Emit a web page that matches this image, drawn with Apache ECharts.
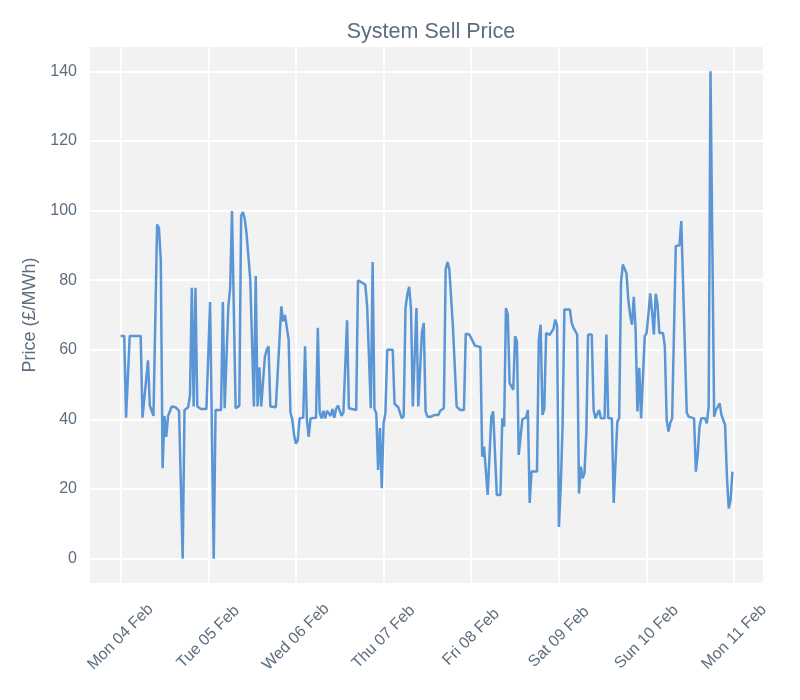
<!DOCTYPE html>
<html>
<head>
<meta charset="utf-8">
<title>System Sell Price</title>
<script src="https://cdn.jsdelivr.net/npm/echarts@6/dist/echarts.min.js"></script>
<style>
  html, body { margin: 0; padding: 0; background: #ffffff; }
  #chart { width: 800px; height: 700px; }
</style>
</head>
<body>
<div id="chart"></div>
<script>
// ── Data ──────────────────────────────────────────
// x = half-hour slot counted from Mon 04 Feb 00:00, y = price in £/MWh
const slotIndex = [
  0, 1, 2, 3, 4, 5, 11, 12, 13, 15, 16, 17, 18, 19, 20, 21, 22, 23, 24, 25, 26,
  27, 28, 30, 31, 32, 33, 34, 35, 37, 38, 39, 40, 41, 42, 44, 45, 47, 48, 49, 51,
  52, 55, 56, 57, 58, 59, 60, 61, 63, 65, 66, 67, 68, 69, 70, 71, 72, 73, 74, 75,
  76, 77, 78, 79, 80, 81, 82, 85, 86, 88, 89, 90, 91, 92, 93, 94, 95, 96, 97, 98,
  100, 101, 102, 103, 104, 107, 108, 109, 110, 111, 112, 113, 114, 115, 116, 117, 118, 119, 120, 121,
  122, 124, 125, 129, 130, 131, 134, 135, 136, 137, 138, 139, 140, 141, 142, 143, 144, 145, 146, 149,
  150, 152, 153, 154, 155, 156, 157, 158, 159, 160, 161, 162, 163, 164, 165, 166, 167, 168, 170, 172,
  174, 175, 177, 178, 179, 180, 181, 182, 183, 184, 186, 188, 189, 191, 192, 194, 195, 197, 198, 199,
  200, 201, 202, 203, 204, 205, 206, 208, 209, 210, 211, 212, 213, 214, 215, 216, 217, 218, 219, 220,
  221, 222, 223, 224, 225, 228, 229, 230, 231, 232, 233, 234, 235, 236, 237, 238, 239, 240, 241, 242,
  243, 246, 247, 248, 249, 250, 251, 252, 253, 254, 255, 256, 258, 259, 260, 261, 262, 263, 265, 266,
  267, 269, 270, 271, 272, 273, 274, 275, 276, 277, 278, 279, 280, 281, 282, 283, 284, 285, 286, 287,
  288, 289, 290, 291, 292, 293, 294, 295, 297, 298, 299, 300, 301, 302, 303, 304, 306, 307, 308, 310,
  311, 314, 315, 316, 317, 318, 320, 321, 322, 323, 324, 325, 326, 328, 329, 330, 331, 332, 333, 334,
  335
];
const sellPrice = [
  64, 64, 64, 40.5, 40.5, 64, 64, 40.5, 40.5, 57, 44, 43.5, 41, 41, 96, 95, 86, 26, 41, 35, 41,
  41.5, 43.7, 43.5, 43, 42.5, 42, 0, 42.7, 43.5, 47, 77.8, 43.7, 77.8, 43.7, 43, 42.7, 43, 43, 73.7, 0,
  42.7, 42.7, 73.7, 43.2, 43, 72.5, 77.8, 99.9, 43.2, 43.9, 98.5, 99.6, 97.5, 93.2, 92.7, 80.2, 79.7, 43.7, 81.2, 43.7,
  55, 43.7, 44, 58, 60, 61, 43.7, 43.5, 43, 72.5, 68.2, 70, 70, 63, 42, 40, 35.5, 33, 34, 40.3,
  40.5, 61, 40, 35, 40.3, 40.5, 66.3, 42, 40.3, 42.5, 40.3, 42.5, 42.5, 41, 43, 40.5, 43, 44, 43.5, 41,
  42, 68.5, 43.2, 42.7, 80, 79.7, 78.7, 72.5, 72, 43.2, 85.2, 43, 41.8, 25.5, 37.5, 20.2, 38.9, 41.8, 60, 60,
  44.5, 43.5, 43, 40.3, 41, 72, 75.9, 78.1, 72, 43.7, 43.2, 72, 43.7, 43.7, 65, 67.7, 42.3, 40.8, 40.8, 41.3,
  41.3, 42.5, 43.2, 83.1, 85.2, 83.3, 83.1, 66.3, 66, 43.7, 42.7, 42.7, 64.6, 64.4, 64.1, 61.2, 61, 60.8, 29.3, 32.2,
  32, 18.3, 18.3, 40.8, 42.3, 42, 18.3, 18.3, 40.3, 37.9, 72, 70.1, 50.4, 49.5, 48.5, 63.9, 62.4, 29.8, 29.8, 40.1,
  40.3, 40.5, 42.7, 16, 25, 25, 62.9, 67.2, 41.3, 43, 64.8, 64.6, 64.3, 64, 66, 68.7, 67, 9.1, 20.7, 37.9,
  71.6, 71.6, 67.7, 66.3, 65.8, 64.4, 18.7, 26.4, 23.1, 24.5, 36, 64.4, 64.4, 42.7, 40.3, 40.3, 42.7, 40.3, 40.3, 64.4,
  40.3, 40.3, 16, 16, 39.4, 40.3, 79.3, 84.5, 84.3, 82, 74.4, 70, 67.2, 75.2, 65.8, 42.3, 54.8, 40.3, 40.3, 63.9,
  64.8, 70.1, 76.2, 71, 64.4, 76.1, 73, 64.8, 64.8, 61, 39.9, 36.5, 39, 40.3, 40.8, 89.8, 90, 97, 97, 42,
  40.8, 40.3, 25, 30, 38, 40.3, 40.3, 38.9, 43.7, 140, 140, 40.8, 42.7, 44.6, 41.3, 41.3, 38.4, 23.5, 14.4, 16.8,
  25
];
const dayLabels = ['Mon 04 Feb', 'Tue 05 Feb', 'Wed 06 Feb', 'Thu 07 Feb',
                   'Fri 08 Feb', 'Sat 09 Feb', 'Sun 10 Feb', 'Mon 11 Feb'];
const dayTicks   = [0, 48, 96, 144, 192, 240, 288, 336];
const priceTicks = [0, 20, 40, 60, 80, 100, 120, 140];

// ── Chart ─────────────────────────────────────────
const TEXT = '#5d6d7e';
const FONT = '"Liberation Sans", Arial, sans-serif';

const chart = echarts.init(document.getElementById('chart'), null, { renderer: 'canvas' });

chart.setOption({
  animation: false,
  backgroundColor: '#ffffff',
  textStyle: { fontFamily: FONT, color: TEXT },
  title: {
    text: 'System Sell Price',
    left: 426,
    top: 16,
    textAlign: 'center',
    textStyle: { fontFamily: FONT, color: TEXT, fontSize: 21.5, fontWeight: 'normal' }
  },
  grid: {
    left: 90, right: 37, top: 47, bottom: 117,
    show: true,
    backgroundColor: '#f2f2f2',
    borderWidth: 0,
    containLabel: false,
    outerBoundsMode: 'none'
  },
  xAxis: {
    type: 'value',
    min: -16.75,
    max: 351.75,
    axisLine: { show: false },
    axisTick: { show: false, customValues: dayTicks },
    splitLine: { show: true, lineStyle: { color: '#ffffff', width: 1.8 } },
    axisLabel: {
      customValues: dayTicks,
      rotate: 45,
      align: 'center',
      verticalAlign: 'middle',
      margin: 54,
      fontSize: 16,
      fontFamily: FONT,
      color: TEXT,
      formatter: function (v) { return dayLabels[Math.round(v / 48)]; }
    }
  },
  yAxis: {
    type: 'value',
    min: -7,
    max: 147,
    name: 'Price (£/MWh)',
    nameLocation: 'middle',
    nameGap: 49,
    nameTextStyle: { fontFamily: FONT, color: TEXT, fontSize: 18 },
    axisLine: { show: false },
    axisTick: { show: false, customValues: priceTicks },
    splitLine: { show: true, lineStyle: { color: '#ffffff', width: 1.8 } },
    axisLabel: {
      customValues: priceTicks,
      margin: 13,
      fontSize: 16,
      fontFamily: FONT,
      color: TEXT
    }
  },
  series: [{
    type: 'line',
    data: slotIndex.map(function (s, i) { return [s, sellPrice[i]]; }),
    showSymbol: false,
    symbol: 'none',
    lineStyle: { color: '#5a96d6', width: 2.5 },
    itemStyle: { color: '#5a96d6' }
  }]
});
</script>
</body>
</html>
